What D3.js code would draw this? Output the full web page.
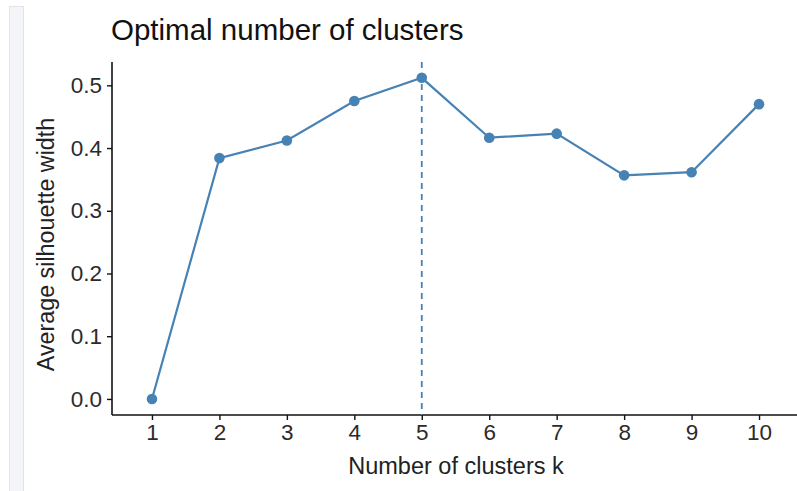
<!DOCTYPE html>
<html><head><meta charset="utf-8">
<script src="https://cdn.jsdelivr.net/npm/d3@7"></script>
<style>body{margin:0;background:#fff}svg{display:block}text{font-family:"Liberation Sans",Arial,sans-serif}</style>
</head><body>
<svg id="c" width="797" height="491"></svg>
<script>
const clusters = [1,2,3,4,5,6,7,8,9,10];
const silhouette = [0.0,0.384,0.412,0.475,0.512,0.4165,0.423,0.3565,0.3615,0.470];
const yTicks = [0.0,0.1,0.2,0.3,0.4,0.5];
const optimalK = 5;

const svg = d3.select("#c");
// light gray side band
svg.append("rect").attr("x",9.5).attr("y",6.5).attr("width",14).attr("height",490)
  .attr("fill","#f4f5f8").attr("stroke","#e4e4e6").attr("stroke-width",1);

const L=112, R=799.5, T=62, B=415;
const x = d3.scaleLinear().domain([0.4,10.6]).range([111.5,R]);
const y = d3.scaleLinear().domain([-0.0256,0.5372]).range([B,T]);

const gx = svg.append("g").attr("transform",`translate(0,${B})`)
  .call(d3.axisBottom(x).tickValues(clusters).tickFormat(d3.format("d")).tickSize(5).tickPadding(4).tickSizeOuter(0));
const gy = svg.append("g").attr("transform",`translate(${L},0)`)
  .call(d3.axisLeft(y).tickValues(yTicks).tickFormat(d3.format(".1f")).tickSize(5).tickPadding(5).tickSizeOuter(0));
[gx,gy].forEach(g=>{
  g.select(".domain").attr("stroke","#111").attr("stroke-width",1.6);
  g.selectAll(".tick line").attr("stroke","#111").attr("stroke-width",1.4);
  g.selectAll(".tick text").attr("fill","#2b2b2b").style("font-size","22.5px").style("font-family",'"Liberation Sans",Arial,sans-serif');
});
gx.select(".domain").attr("d",`M${L},0H797`);
gy.select(".domain").attr("d",`M0,${T}V${B}`);

// dashed optimal line
svg.append("line").attr("x1",x(optimalK)).attr("x2",x(optimalK)).attr("y1",T).attr("y2",B)
  .attr("stroke","#4682b4").attr("stroke-width",1.8).attr("stroke-dasharray","6,5");

const pts = clusters.map((k,i)=>[k,silhouette[i]]);
svg.append("path").datum(pts).attr("fill","none").attr("stroke","#4682b4").attr("stroke-width",2.2)
  .attr("d",d3.line().x(d=>x(d[0])).y(d=>y(d[1])));
svg.selectAll("circle.p").data(pts).join("circle").attr("class","p")
  .attr("cx",d=>x(d[0])).attr("cy",d=>y(d[1])).attr("r",5.3).attr("fill","#4682b4");

svg.append("text").attr("x",111).attr("y",40).attr("fill","#111").style("font-size","29.5px").text("Optimal number of clusters");
svg.append("text").attr("x",456).attr("y",474).attr("text-anchor","middle").attr("fill","#222").style("font-size","23.5px").text("Number of clusters k");
svg.append("text").attr("transform",`translate(54,${(T+B)/2+6}) rotate(-90)`).attr("text-anchor","middle").attr("fill","#222").style("font-size","23.3px").text("Average silhouette width");
</script>
</body></html>
